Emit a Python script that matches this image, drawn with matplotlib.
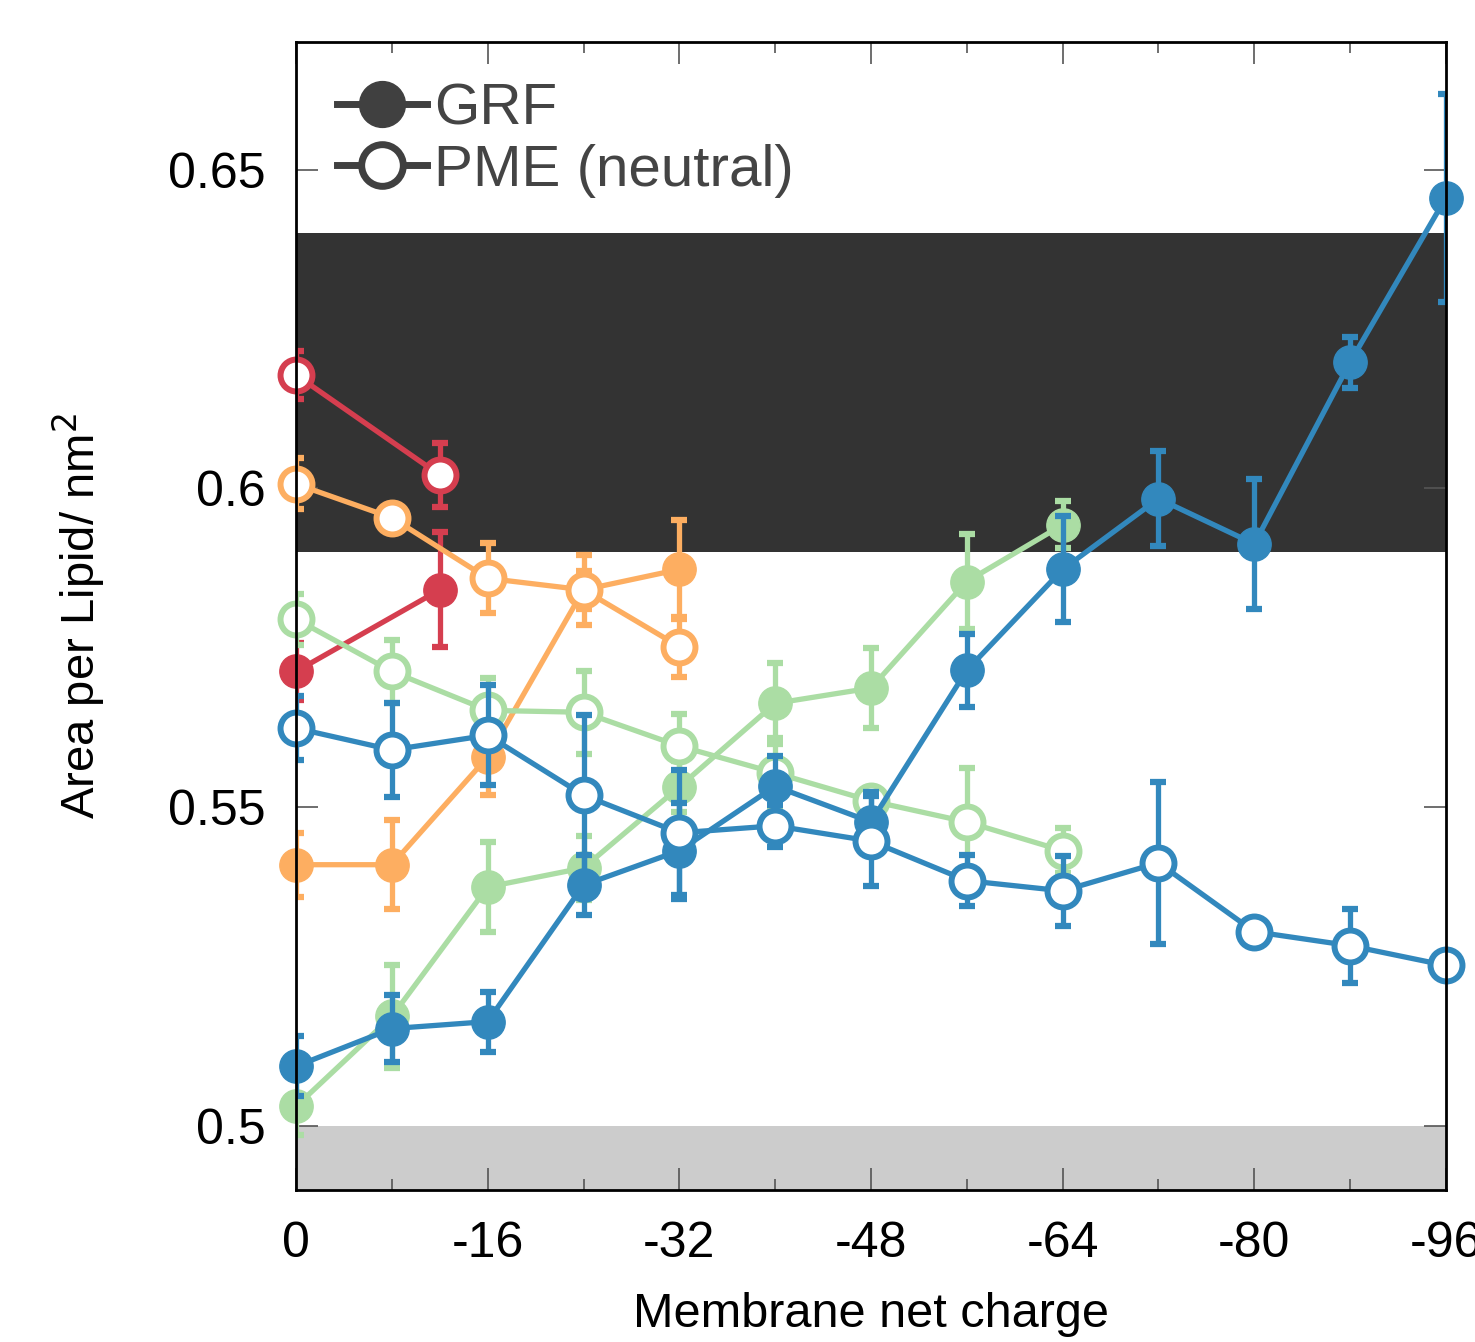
import matplotlib
matplotlib.use("Agg")
import matplotlib.pyplot as plt
from matplotlib import ticker as mtick
from matplotlib.lines import Line2D

plt.rcParams['font.family'] = ['Liberation Sans', 'DejaVu Sans']
plt.rcParams['axes.unicode_minus'] = False

# membrane net charge
red_x = [0, -12]
orange_x = [0, -8, -16, -24, -32]
green_x = [0, -8, -16, -24, -32, -40, -48, -56, -64]
blue_x = [0, -8, -16, -24, -32, -40, -48, -56, -64, -72, -80, -88, -96]

# area per lipid (nm^2), GRF = filled, PME (neutral) = open
red_grf = [0.5713, 0.5841]
red_grf_err = [0.0045, 0.009]
red_pme = [0.6178, 0.6021]
red_pme_err = [0.0038, 0.005]

orange_grf = [0.5410, 0.5410, 0.5579, 0.5841, 0.5873]
orange_grf_err = [0.005, 0.007, 0.006, 0.003, 0.0078]
orange_pme = [0.6007, 0.5954, 0.5859, 0.5841, 0.5752]
orange_pme_err = [0.004, 0.002, 0.0055, 0.0055, 0.0047]

green_grf = [0.5031, 0.5172, 0.5375, 0.5405, 0.5532, 0.5663, 0.5687, 0.5854, 0.5943]
green_grf_err = [0.0045, 0.008, 0.007, 0.005, 0.004, 0.0063, 0.0063, 0.0075, 0.0037]
green_pme = [0.5795, 0.5713, 0.5652, 0.5649, 0.5596, 0.5554, 0.5510, 0.5477, 0.5432]
green_pme_err = [0.004, 0.005, 0.005, 0.0065, 0.005, 0.0055, 0.002, 0.0085, 0.0035]

blue_grf = [0.5094, 0.5153, 0.5164, 0.5378, 0.5432, 0.5533, 0.5477, 0.5715, 0.5873,
            0.5984, 0.5913, 0.6198, 0.6456]
blue_grf_err = [0.0047, 0.0053, 0.0047, 0.0047, 0.0075, 0.0047, 0.0047, 0.0057, 0.0083,
                0.0074, 0.0102, 0.004, 0.0163]
blue_pme = [0.5624, 0.5590, 0.5613, 0.5519, 0.5460, 0.5471, 0.5447, 0.5385, 0.5369,
            0.5413, 0.5305, 0.5283, 0.5252]
blue_pme_err = [0.005, 0.0074, 0.0078, 0.0125, 0.0098, 0.0033, 0.007, 0.004, 0.0055,
                0.0127, 0.001, 0.0058, 0.001]

series = [
    ("#d53e4f", red_x, red_grf, red_grf_err, red_pme, red_pme_err),
    ("#fdae61", orange_x, orange_grf, orange_grf_err, orange_pme, orange_pme_err),
    ("#abdda4", green_x, green_grf, green_grf_err, green_pme, green_pme_err),
    ("#3288bd", blue_x, blue_grf, blue_grf_err, blue_pme, blue_pme_err),
]

band_dark = (0.59, 0.64)
band_grey = (0.49, 0.50)

fig = plt.figure(figsize=(14.75, 13.42), dpi=100)
ax = fig.add_axes([0.2007, 0.1133, 0.7796, 0.8554])

ax.axhspan(*band_dark, color="#333333", zorder=0, lw=0)
ax.axhspan(*band_grey, color="#cccccc", zorder=0, lw=0)

z = 2
for color, xs, grf, grf_err, pme, pme_err in series:
    ax.errorbar(xs, grf, yerr=grf_err, fmt="none", ecolor=color, elinewidth=3.8,
                capsize=6, capthick=4.5, zorder=z)
    ax.plot(xs, grf, "-o", color=color, lw=3.8, ms=24, mec=color, mfc=color,
            clip_on=False, zorder=z + 0.1)
    ax.errorbar(xs, pme, yerr=pme_err, fmt="none", ecolor=color, elinewidth=3.8,
                capsize=6, capthick=4.5, zorder=z + 0.2)
    ax.plot(xs, pme, "-o", color=color, lw=3.8, ms=23, mec=color, mfc="white",
            mew=4.3, clip_on=False, zorder=z + 0.3)
    z += 1

ax.set_xlim(0, -96)
ax.set_ylim(0.49, 0.67)
ax.xaxis.set_major_locator(mtick.MultipleLocator(16))
ax.xaxis.set_minor_locator(mtick.MultipleLocator(8))
ax.set_yticks([0.5, 0.55, 0.6, 0.65])
ax.set_yticklabels(["0.5", "0.55", "0.6", "0.65"])
ax.xaxis.set_major_formatter(mtick.FuncFormatter(lambda v, p: "%d" % v))

ax.tick_params(which="both", direction="in", top=True, right=True,
               color="#555555", width=1.2)
ax.tick_params(which="major", length=16, labelsize=36, pad=22)
ax.tick_params(which="minor", length=8)
for s in ax.spines.values():
    s.set_linewidth(2)
    s.set_zorder(10)

ax.set_xlabel("Membrane net charge", fontsize=35, labelpad=18)
ax.set_ylabel("Area per Lipid/ nm$^2$", fontsize=34, labelpad=44)

handles = [
    Line2D([], [], color="#404040", lw=5, marker="o", ms=33, mfc="#404040"),
    Line2D([], [], color="#404040", lw=5, marker="o", ms=30, mfc="white", mew=5),
]
leg = ax.legend(handles, ["GRF", "PME (neutral)"], loc="upper left",
                bbox_to_anchor=(0.0, 1.0), frameon=False, fontsize=42,
                handlelength=1.55, handletextpad=0.12, labelspacing=0.12,
                borderaxespad=0.3)
for t in leg.get_texts():
    t.set_color("#444444")

plt.savefig("out.png", dpi=100)
